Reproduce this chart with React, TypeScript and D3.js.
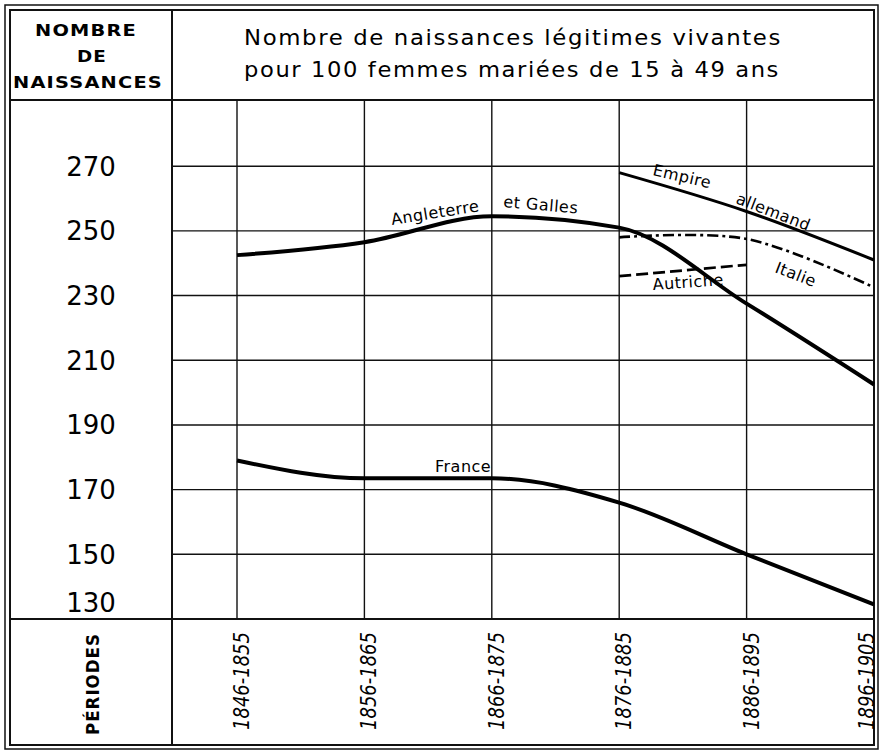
import React, { useEffect, useRef } from 'react';
import * as d3 from 'd3';

// periods along the bottom, one gridline each
const periods = ['1846-1855', '1856-1865', '1866-1875', '1876-1885', '1886-1895', '1896-1905'];
const yTicks = [270, 250, 230, 210, 190, 170, 150, 130];

// births per 100 married women aged 15-49
const england = [242.5, 246.5, 254.5, 251, 227.5, 202.5];
const france = [179, 173.5, 173.5, 166, 150, 134.5];
const germany = [268, 256, 241];
const italy = [248, 247.5, 232.5];
const austria = [236, 239.5];
const latePeriods = periods.slice(3);

const W = 881;
const H = 752;

const App: React.FC = () => {
  const svgRef = useRef<SVGSVGElement>(null);

  useEffect(() => {
    if (!svgRef.current) return;
    const svg = d3.select(svgRef.current);
    svg.selectAll('*').remove();

    const left = 10, right = 874, top = 10, bottom = 745;
    const colX = 172, headY = 100, rowY = 619;

    const x = d3.scalePoint<string>().domain(periods).range([237, 874]);
    const y = d3.scaleLinear().domain([130, 290]).range([rowY, 101.5]);

    svg.append('rect').attr('width', W).attr('height', H).attr('fill', '#fff');

    const g = svg.append('g').attr('stroke', '#111').attr('fill', 'none');

    // horizontal gridlines
    g.selectAll('.hgrid')
      .data(yTicks.filter(d => d > 130))
      .enter().append('line')
      .attr('x1', colX).attr('x2', right)
      .attr('y1', d => y(d)).attr('y2', d => y(d))
      .attr('stroke-width', 1.4);

    // vertical gridlines
    g.selectAll('.vgrid')
      .data(periods)
      .enter().append('line')
      .attr('x1', d => x(d)!).attr('x2', d => x(d)!)
      .attr('y1', headY).attr('y2', rowY)
      .attr('stroke-width', 1.4);

    // frame
    g.append('rect').attr('x', 5).attr('y', 5).attr('width', 878 - 5).attr('height', 749 - 5).attr('stroke-width', 1.5);
    g.append('rect').attr('x', left).attr('y', top).attr('width', right - left).attr('height', bottom - top).attr('stroke-width', 2);
    g.append('line').attr('x1', left).attr('x2', right).attr('y1', headY).attr('y2', headY).attr('stroke-width', 2);
    g.append('line').attr('x1', left).attr('x2', right).attr('y1', rowY).attr('y2', rowY).attr('stroke-width', 2);
    g.append('line').attr('x1', colX).attr('x2', colX).attr('y1', top).attr('y2', bottom).attr('stroke-width', 2);

    const mono = d3.line<[string, number]>()
      .x(d => x(d[0])!)
      .y(d => y(d[1]))
      .curve(d3.curveMonotoneX);
    const smooth = d3.line<[string, number]>()
      .x(d => x(d[0])!)
      .y(d => y(d[1]))
      .curve(d3.curveCatmullRom);

    const draw = (vals: number[], per: string[], gen: typeof mono, width: number, dash?: string) => {
      const p = svg.append('path')
        .datum(per.map((k, i) => [k, vals[i]] as [string, number]))
        .attr('d', gen)
        .attr('fill', 'none')
        .attr('stroke', '#000')
        .attr('stroke-width', width)
        .attr('stroke-linecap', 'butt');
      if (dash) p.attr('stroke-dasharray', dash);
    };

    draw(england, periods, mono, 4);
    draw(france, periods, mono, 4);
    draw(germany, latePeriods, smooth, 3);
    draw(italy, latePeriods, smooth, 2.6, '11,4,3,4');
    draw(austria, latePeriods.slice(0, 2), smooth, 2.6, '12,5');

    const font = 'DejaVu Sans, sans-serif';

    // header, left column
    const hdr = svg.append('g')
      .attr('font-family', font)
      .attr('font-weight', 'bold')
      .attr('font-size', 16)
      .attr('text-anchor', 'middle')
      .attr('fill', '#000');
    const hdrRows: [string, number, number, number][] = [
      ['NOMBRE', 86, 36, 102],
      ['DE', 92, 62, 30],
      ['NAISSANCES', 88, 88, 150],
    ];
    hdrRows.forEach(([t, cx, by, len]) => {
      hdr.append('text').attr('x', cx).attr('y', by)
        .attr('letter-spacing', 1)
        .attr('textLength', len).attr('lengthAdjust', 'spacingAndGlyphs').text(t);
    });

    // title
    const title = svg.append('g').attr('font-family', font).attr('font-size', 21).attr('fill', '#000');
    title.append('text').attr('x', 244).attr('y', 45).attr('letter-spacing', 1.5)
      .attr('textLength', 538).attr('lengthAdjust', 'spacingAndGlyphs')
      .text('Nombre de naissances légitimes vivantes');
    title.append('text').attr('x', 244).attr('y', 77).attr('letter-spacing', 1.5)
      .attr('textLength', 536).attr('lengthAdjust', 'spacingAndGlyphs')
      .text('pour 100 femmes mariées de 15 à 49 ans');

    // y labels
    svg.append('g').selectAll('text')
      .data(yTicks)
      .enter().append('text')
      .attr('x', 91)
      .attr('y', d => (d === 130 ? y(d) - 16 : y(d)))
      .attr('dy', '0.36em')
      .attr('text-anchor', 'middle')
      .attr('font-family', font)
      .attr('font-size', 26)
      .attr('fill', '#000')
      .text(d => d);

    // period labels
    svg.append('g').selectAll('text')
      .data(periods)
      .enter().append('text')
      .attr('transform', (d, i) => `translate(${x(d)! + (i === periods.length - 1 ? -8 : 4)},${681}) rotate(-90)`)
      .attr('dy', '0.36em')
      .attr('text-anchor', 'middle')
      .attr('font-family', font)
      .attr('font-style', 'italic')
      .attr('font-size', 22)
      .attr('textLength', 98)
      .attr('lengthAdjust', 'spacingAndGlyphs')
      .attr('fill', '#000')
      .text(d => d);

    svg.append('text')
      .attr('transform', `translate(93,684) rotate(-90)`)
      .attr('dy', '0.36em')
      .attr('text-anchor', 'middle')
      .attr('font-family', font)
      .attr('font-weight', 'bold')
      .attr('font-size', 17)
      .attr('letter-spacing', 1)
      .attr('textLength', 102)
      .attr('lengthAdjust', 'spacingAndGlyphs')
      .attr('fill', '#000')
      .text('PÉRIODES');

    // series labels
    const labels: [string, number, number, number][] = [
      ['Angleterre', 392, 225, -9],
      ['et Galles', 503, 207, 5],
      ['France', 435, 472, 0],
      ['Empire', 652, 175, 13],
      ['allemand', 735, 203, 21],
      ['Italie', 774, 272, 21],
      ['Autriche', 653, 290, -4],
    ];
    svg.append('g').selectAll('text')
      .data(labels)
      .enter().append('text')
      .attr('transform', d => `translate(${d[1]},${d[2]}) rotate(${d[3]})`)
      .attr('font-family', font)
      .attr('font-size', 16)
      .attr('letter-spacing', 0.5)
      .attr('fill', '#000')
      .text(d => d[0]);
  }, []);

  return (
    <svg ref={svgRef} width={W} height={H} style={{ position: 'absolute', left: 0, top: 0 }} />
  );
};

export default App;
